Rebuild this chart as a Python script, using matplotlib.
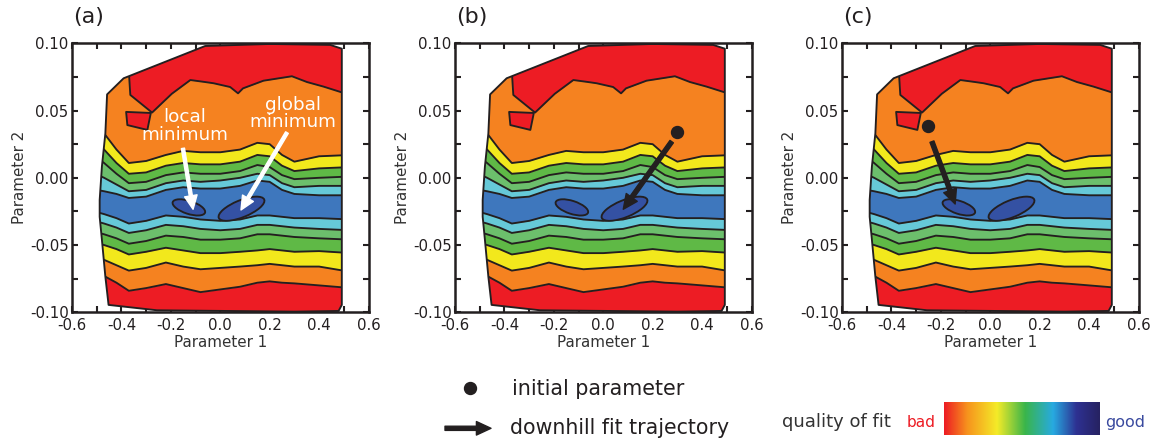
import numpy as np
import matplotlib
matplotlib.use("Agg")
import matplotlib.pyplot as plt
from matplotlib.patches import Polygon, Ellipse
from matplotlib.transforms import ScaledTranslation
from matplotlib.colors import LinearSegmentedColormap
from matplotlib.ticker import MultipleLocator

plt.rcParams['font.family'] = ['DejaVu Sans']

# ---------------- data ----------------
panel_labels = ['(a)', '(b)', '(c)']
x_label = 'Parameter 1'
y_label = 'Parameter 2'
x_ticks = [-0.6, -0.4, -0.2, 0.0, 0.2, 0.4, 0.6]
y_ticks = [-0.10, -0.05, 0.00, 0.05, 0.10]

# domain of the computed landscape
outline_x = [-0.458, -0.391, -0.061, 0.20, 0.445, 0.492, 0.492, 0.479, 0.30, -0.256, -0.452, -0.465, -0.479, -0.488, -0.488, -0.479, -0.465]
outline_y = [0.062, 0.074, 0.098, 0.0995, 0.0988, 0.096, -0.0945, -0.099, -0.0995, -0.0985, -0.0945, -0.0735, -0.046, -0.029, -0.0165, 0.0083, 0.033]

# red / orange boundary at the top
top_line_x = [-0.372, -0.364, -0.276, -0.196, -0.121, -0.061, -0.027, 0.040, 0.072, 0.092, 0.175, 0.290, 0.351, 0.418, 0.492, 0.53]
top_line_y = [0.085, 0.0616, 0.0485, 0.0625, 0.0727, 0.0712, 0.0703, 0.0675, 0.0628, 0.0665, 0.0722, 0.0755, 0.0712, 0.0678, 0.0635, 0.061]

# small red island
island_x = [-0.381, -0.281, -0.295, -0.376]
island_y = [0.0490, 0.0482, 0.0356, 0.0392]

# contour boundaries (y at x_grid), top to bottom
x_grid = [-0.53, -0.47, -0.42, -0.37, -0.30, -0.22, -0.15, -0.08, 0.00, 0.08, 0.15, 0.20, 0.25, 0.30, 0.40, 0.53]
line_orange_yellow = [0.045, 0.033, 0.021, 0.011, 0.0125, 0.017, 0.020, 0.019, 0.019, 0.021, 0.026, 0.025, 0.017, 0.012, 0.016, 0.017]
line_yellow_green = [0.031, 0.021, 0.011, 0.003, 0.004, 0.009, 0.011, 0.010, 0.010, 0.012, 0.017, 0.016, 0.009, 0.005, 0.007, 0.008]
line_green_lgreen = [0.019, 0.011, 0.003, -0.004, -0.003, 0.002, 0.004, 0.003, 0.003, 0.005, 0.0095, 0.008, 0.002, -0.001, 0.000, 0.001]
line_lgreen_cyan = [0.005, 0.000, -0.005, -0.010, -0.009, -0.004, -0.002, -0.003, -0.002, 0.000, 0.003, 0.002, -0.004, -0.007, -0.006, -0.006]
line_cyan_blue = [-0.008, -0.010, -0.012, -0.015, -0.014, -0.009, -0.007, -0.008, -0.008, -0.006, -0.002, -0.003, -0.009, -0.012, -0.013, -0.013]
line_blue_cyan = [-0.024, -0.027, -0.030, -0.034, -0.032, -0.028, -0.029, -0.031, -0.032, -0.031, -0.028, -0.028, -0.029, -0.030, -0.030, -0.031]
line_cyan_lgreen = [-0.031, -0.034, -0.037, -0.041, -0.039, -0.035, -0.036, -0.038, -0.039, -0.038, -0.035, -0.035, -0.036, -0.037, -0.038, -0.039]
line_lgreen_green = [-0.039, -0.042, -0.045, -0.049, -0.047, -0.043, -0.044, -0.046, -0.046, -0.045, -0.042, -0.042, -0.043, -0.044, -0.045, -0.046]
line_green_yellow = [-0.047, -0.050, -0.053, -0.057, -0.055, -0.052, -0.054, -0.056, -0.056, -0.055, -0.054, -0.053, -0.054, -0.055, -0.0545, -0.056]
line_yellow_orange = [-0.057, -0.061, -0.065, -0.069, -0.067, -0.063, -0.066, -0.068, -0.067, -0.066, -0.065, -0.064, -0.065, -0.066, -0.066, -0.070]
line_orange_red = [-0.068, -0.073, -0.078, -0.084, -0.082, -0.079, -0.082, -0.085, -0.083, -0.081, -0.078, -0.077, -0.078, -0.0785, -0.080, -0.082]

# minima (centre x, centre y)
minima_x = [-0.127, 0.086]
minima_y = [-0.022, -0.023]
minima_names = ['local\nminimum', 'global\nminimum']
minima_text_x = [-0.145, 0.295]
minima_text_y = [0.0385, 0.048]
minima_arrow_tail_x = [-0.151, 0.270]
minima_arrow_tail_y = [0.0219, 0.0336]
minima_arrow_tip_x = [-0.110, 0.084]
minima_arrow_tip_y = [-0.0234, -0.0239]

# fit start points and trajectories for panels (b) and (c)
start_x = [0.30, -0.25]
start_y = [0.034, 0.0385]
traj_tail_x = [0.277, -0.236]
traj_tail_y = [0.0269, 0.0269]
traj_tip_x = [0.081, -0.142]
traj_tip_y = [-0.0234, -0.0195]

legend_texts = ['initial parameter', 'downhill fit trajectory']
scale_text = 'quality of fit'
scale_ends = ['bad', 'good']

# ---------------- styling ----------------
C_RED = '#ed1c24'
C_ORANGE = '#f58220'
C_YELLOW = '#f2e81c'
C_GREEN = '#5fb946'
C_LGREEN = '#6cbf6c'
C_CYAN = '#66c9d8'
C_BLUE = '#3e77bd'
C_DBLUE = '#3451a3'
INK = '#231f20'

lines = [line_orange_yellow, line_yellow_green, line_green_lgreen, line_lgreen_cyan,
         line_cyan_blue, line_blue_cyan, line_cyan_lgreen, line_lgreen_green,
         line_green_yellow, line_yellow_orange, line_orange_red]
band_colors = [C_YELLOW, C_GREEN, C_LGREEN, C_CYAN, C_BLUE, C_CYAN, C_LGREEN,
               C_GREEN, C_YELLOW, C_ORANGE]

W, H = 1160, 444
fig = plt.figure(figsize=(W / 100, H / 100), dpi=100)

ax_lefts = [72, 455, 842]
ax_w, ax_top, ax_bot = 296.5, 43.3, 312.3
LW = 1.35


def draw_landscape(ax):
    dom = Polygon(np.column_stack([outline_x, outline_y]), closed=True,
                  facecolor=C_ORANGE, edgecolor='none', zorder=1)
    ax.add_patch(dom)
    arts = []
    arts.append(ax.fill_between(top_line_x, top_line_y, 0.12, color=C_RED, lw=0, zorder=2))
    for i, col in enumerate(band_colors):
        arts.append(ax.fill_between(x_grid, lines[i + 1], lines[i], color=col, lw=0, zorder=2))
    arts.append(ax.fill_between(x_grid, -0.12, lines[-1], color=C_RED, lw=0, zorder=2))
    for ly in lines:
        arts += ax.plot(x_grid, ly, color=INK, lw=LW, zorder=3, solid_joinstyle='round')
    arts += ax.plot(top_line_x, top_line_y, color=INK, lw=LW, zorder=3, solid_joinstyle='round')
    for a in arts:
        a.set_clip_path(dom)
    isl = Polygon(np.column_stack([island_x, island_y]), closed=True,
                  facecolor=C_RED, edgecolor=INK, lw=LW, zorder=3, joinstyle='round')
    ax.add_patch(isl)
    ax.add_patch(Polygon(np.column_stack([outline_x, outline_y]), closed=True,
                         fill=False, edgecolor=INK, lw=LW, zorder=4, joinstyle='round'))
    sizes = [(0.34, 0.13, -18), (0.49, 0.17, 22)]
    for (mx, my, (w, h, ang)) in zip(minima_x, minima_y, sizes):
        tr = fig.dpi_scale_trans + ScaledTranslation(mx, my, ax.transData)
        ax.add_patch(Ellipse((0, 0), w, h, angle=ang, transform=tr,
                             facecolor=C_DBLUE, edgecolor=INK, lw=LW, zorder=5))


axes = []
for i, left in enumerate(ax_lefts):
    ax = fig.add_axes([left / W, 1 - ax_bot / H, ax_w / W, (ax_bot - ax_top) / H])
    ax.set_xlim(-0.6, 0.6)
    ax.set_ylim(-0.1, 0.1)
    draw_landscape(ax)
    ax.set_xticks(x_ticks)
    ax.set_xticklabels([f'{v:.1f}' for v in x_ticks])
    ax.set_yticks(y_ticks)
    ax.set_yticklabels([f'{v:.2f}' for v in y_ticks])
    ax.xaxis.set_minor_locator(MultipleLocator(0.1))
    ax.yaxis.set_minor_locator(MultipleLocator(0.025))
    ax.tick_params(which='both', direction='in', top=True, right=True,
                   length=4, width=1.5, color=INK, labelcolor=INK, labelsize=10.8)
    ax.tick_params(axis='x', pad=4.2)
    ax.tick_params(axis='y', pad=2.5)
    for s in ax.spines.values():
        s.set_linewidth(1.8)
        s.set_color(INK)
        s.set_zorder(10)
    ax.set_xlabel(x_label, fontsize=10.9, color='#333333')
    ax.set_ylabel(y_label, fontsize=10.9, color='#333333')
    ax.xaxis.set_label_coords(0.5, -0.086)
    ax.yaxis.set_label_coords(-0.153, 0.5)
    fig.text((left + 1) / W, 1 - 17 / H, panel_labels[i], fontsize=16,
             color=INK, ha='left', va='center')
    axes.append(ax)

# panel (a) annotations
ax = axes[0]
for k in range(2):
    ax.text(minima_text_x[k], minima_text_y[k], minima_names[k], color='white',
            fontsize=13.2, ha='center', va='center', linespacing=0.95, zorder=7)
    ax.annotate('', xy=(minima_arrow_tip_x[k], minima_arrow_tip_y[k]),
                xytext=(minima_arrow_tail_x[k], minima_arrow_tail_y[k]),
                arrowprops=dict(arrowstyle='simple,head_length=0.7,head_width=0.65,tail_width=0.16',
                                color='white', shrinkA=0, shrinkB=0, mutation_scale=14), zorder=7)

# panels (b), (c)
for k, ax in enumerate(axes[1:]):
    ax.plot([start_x[k]], [start_y[k]], 'o', color=INK, ms=8.6, zorder=8)
    ax.annotate('', xy=(traj_tip_x[k], traj_tip_y[k]),
                xytext=(traj_tail_x[k], traj_tail_y[k]),
                arrowprops=dict(arrowstyle='simple,head_length=0.7,head_width=0.65,tail_width=0.2',
                                color=INK, shrinkA=0, shrinkB=0, mutation_scale=15), zorder=8)

# bottom legend (figure-pixel overlay)
ov = fig.add_axes([0, 0, 1, 1])
ov.set_xlim(0, W)
ov.set_ylim(H, 0)
ov.axis('off')
ov.plot([470], [388.3], 'o', color=INK, ms=8.6)
ov.text(511.7, 395, legend_texts[0], fontsize=14.9, color=INK, ha='left', va='baseline')
ov.annotate('', xy=(491, 428.3), xytext=(445, 428.3),
            arrowprops=dict(arrowstyle='simple,head_length=0.7,head_width=0.65,tail_width=0.2',
                            color=INK, shrinkA=0, shrinkB=0, mutation_scale=15))
ov.text(510, 434, legend_texts[1], fontsize=14.8, color=INK, ha='left', va='baseline')

ov.text(781.7, 426.7, scale_text, fontsize=13, color='#333333', ha='left', va='baseline')
ov.text(906.7, 426.7, scale_ends[0], fontsize=11.1, color=C_RED, ha='left', va='baseline')
ov.text(1105, 426.7, scale_ends[1], fontsize=11.5, color='#3a4a9f', ha='left', va='baseline')

cmap = LinearSegmentedColormap.from_list('fit', [
    (0.00, '#ed1c24'), (0.15, '#f7941d'), (0.34, '#f4eb28'), (0.52, '#3ab54a'),
    (0.70, '#27aae1'), (0.85, '#2e3192'), (1.00, '#262261')])
cax = fig.add_axes([944 / W, 1 - 435 / H, 156 / W, 33.3 / H])
cax.imshow(np.linspace(0, 1, 256)[None, :], aspect='auto', cmap=cmap)
cax.axis('off')

fig.savefig('out.png', dpi=100)
